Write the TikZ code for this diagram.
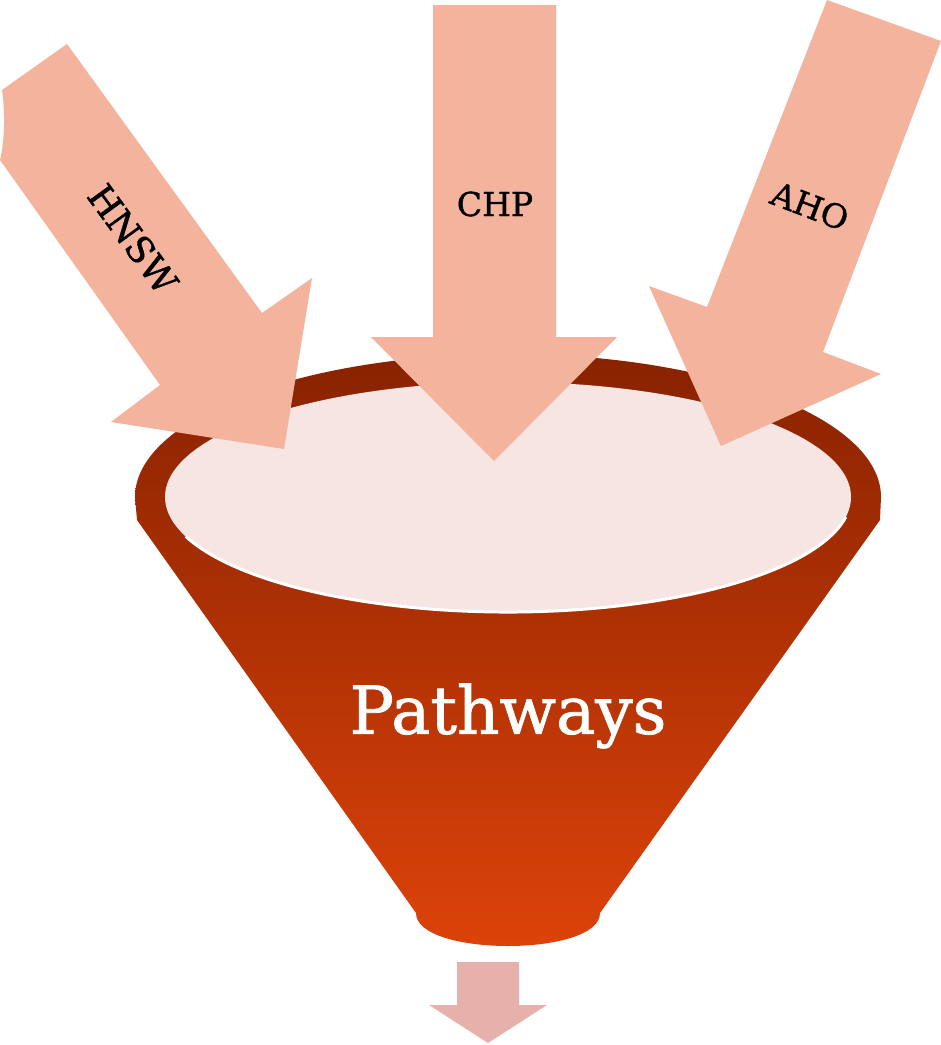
\documentclass[tikz,border=0pt]{standalone}
\usepackage{fontspec}
\setmainfont{DejaVu Serif}
\newfontfamily\slabfont[FakeBold=1.2]{DejaVu Serif}
\definecolor{arrowfill}{HTML}{F3B39C}
\definecolor{ringtop}{HTML}{882200}
\definecolor{funnelbot}{HTML}{DE430A}
\definecolor{innerfill}{HTML}{F6E5E2}
\definecolor{outarrow}{HTML}{E6B1AB}
\tikzset{
  inarrow/.style={fill=arrowfill, draw=none},
  arrowlabel/.style={font=\slabfont\fontsize{33}{38}\selectfont, text=black, inner sep=0pt},
  bigtitle/.style={font=\slabfont\fontsize{66}{72}\selectfont, text=white, inner sep=0pt}
}
\begin{document}
\begin{tikzpicture}[x=1pt,y=-1pt]
\useasboundingbox (0,0) rectangle (941,1045);
% funnel body
\path[top color=ringtop, bottom color=funnelbot, draw=none]
  (881,497) arc[start angle=0, end angle=180, x radius=373pt, y radius=143pt]
  -- (137,520) -- (416,913)
  .. controls (416,957) and (600,957) .. (600,913)
  -- (880,520) -- cycle;
% inner opening
\fill[innerfill] (508,497) ellipse [x radius=343pt, y radius=115pt];
\draw[white, line width=3pt]
  (508,497) ++(200:343pt and 115pt)
  arc[start angle=200, end angle=350, x radius=343pt, y radius=115pt];
% title
\node[bigtitle] (pathways) at (508,716) {Pathways};
% outflow arrow
\fill[outarrow] (457,962) -- (519,962) -- (519,1005) -- (547,1005)
  -- (488,1043) -- (429,1005) -- (457,1005) -- cycle;
% HNSW arrow
\path[inarrow] (67,44) -- (262,313) -- (312,278) -- (284,449) -- (111,422)
  -- (160,385) -- (0,160) .. controls (5,140) and (5,110) .. (2,90) -- cycle;
\node[arrowlabel, font=\slabfont\fontsize{36}{40}\selectfont, rotate=-54] (hnsw) at (133,239) {HNSW};
% CHP arrow
\path[inarrow] (433,5) -- (556,5) -- (556,337) -- (617,337) -- (494,461)
  -- (371,337) -- (433,337) -- cycle;
\node[arrowlabel] (chp) at (495,204) {CHP};
% AHO arrow
\path[inarrow] (827,0) -- (941,41) -- (823,352) -- (881,374) -- (721,446)
  -- (649,286) -- (707,307) -- cycle;
\node[arrowlabel, rotate=-21] (aho) at (810,206) {AHO};
\end{tikzpicture}
\end{document}
